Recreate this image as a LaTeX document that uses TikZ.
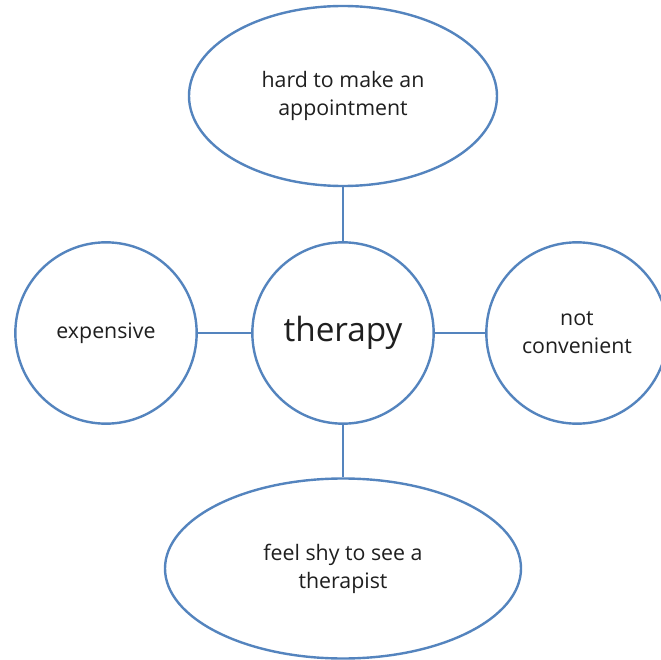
\documentclass[tikz,border=0pt]{standalone}
\usepackage{fontspec}
\setmainfont{Open Sans}
\usetikzlibrary{shapes.geometric}

\begin{document}
\begin{tikzpicture}[
  x=0.75pt, y=-0.75pt,
  every node/.style={draw=\colorisL, line width=1.8pt, fill=white,
    align=center, inner sep=0pt, text=\colorisT,
    font=\fontsize{16}{21}\selectfont},
  bubble/.style={circle, minimum size=136pt},
  oval/.style={ellipse, minimum width=#1, minimum height=135pt},
  hub/.style={bubble, font=\fontsize{25}{28}\selectfont},
]
%-------------------------------------------------------------
% Custom colors
\definecolor{linkblue}{RGB}{84,132,190}
\newcommand{\colorisL}{linkblue}
\newcommand{\colorisT}{black!88}

\tikzset{link/.style={draw=\colorisL, line width=1.8pt}}

\useasboundingbox (0,0) rectangle (661,660);

%-------------------------------------------------------------
% Main elements
\node[hub] (T) at (343,333) {therapy};
\node[oval=231pt] (A) at (343,96) {hard to make an\\appointment};
\node[bubble] (E) at (106,333) {expensive};
\node[bubble] (C) at (577,333) {not\\convenient};
\node[oval=267pt] (S) at (343,568.5) {feel shy to see a\\therapist};

%-------------------------------------------------------------
% Links
\draw[link] (T) -- (A);
\draw[link] (T) -- (E);
\draw[link] (T) -- (C);
\draw[link] (T) -- (S);

\end{tikzpicture}
\end{document}
